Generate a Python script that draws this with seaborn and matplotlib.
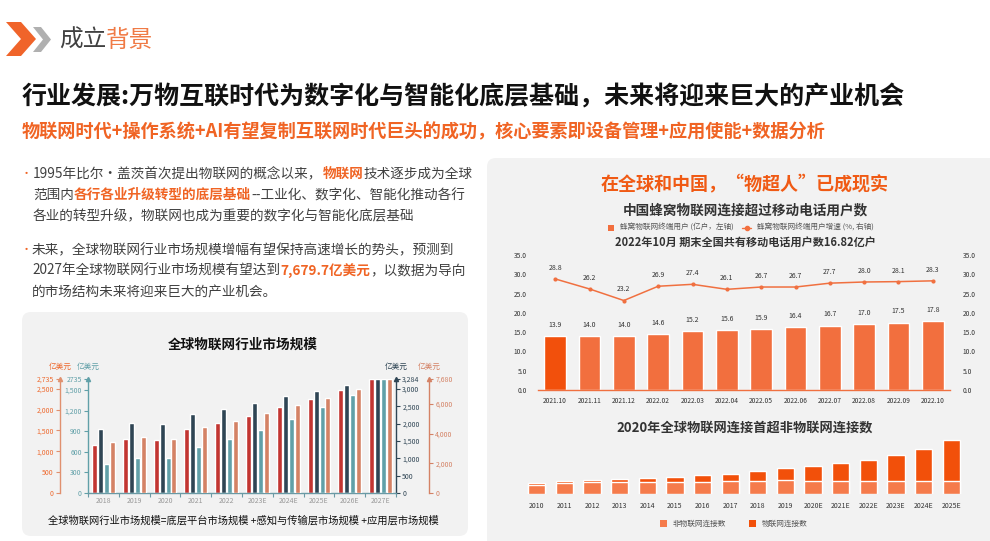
import matplotlib
matplotlib.use('Agg')
import matplotlib.pyplot as plt
import seaborn as sns
import numpy as np
import pandas as pd
from matplotlib.patches import FancyBboxPatch, Polygon, Rectangle
from matplotlib.lines import Line2D

# ---------------- data ----------------
years_l = ['2018', '2019', '2020', '2021', '2022', '2023E', '2024E', '2025E', '2026E', '2027E']
platform = [1155, 1307, 1275, 1540, 1684, 1853, 2069, 2262, 2478, 2735]
sensing = [1849, 2022, 1993, 2282, 2427, 2600, 2802, 2947, 3120, 3284]
application = [424, 516, 516, 672, 789, 920, 1081, 1256, 1431, 1661]
market_total = [3446, 3784, 3649, 4459, 4865, 5405, 5946, 6419, 7027, 7680]

months = ['2021.10', '2021.11', '2021.12', '2022.02', '2022.03', '2022.04',
          '2022.05', '2022.06', '2022.07', '2022.08', '2022.09', '2022.10']
cellular_users = [13.9, 14.0, 14.0, 14.6, 15.2, 15.6, 15.9, 16.4, 16.7, 17.0, 17.5, 17.8]
cellular_growth = [28.8, 26.2, 23.2, 26.9, 27.4, 26.1, 26.7, 26.7, 27.7, 28.0, 28.1, 28.3]

years_b = ['2010', '2011', '2012', '2013', '2014', '2015', '2016', '2017', '2018', '2019',
           '2020E', '2021E', '2022E', '2023E', '2024E', '2025E']
non_iot = [7.0, 8.5, 9.2, 9.2, 9.2, 9.2, 9.2, 10.0, 10.0, 10.8, 10.0, 10.0, 10.0, 10.0, 10.0, 10.0]
iot = [1.5, 1.5, 1.5, 2.3, 3.1, 3.8, 5.4, 5.4, 7.7, 9.2, 11.5, 13.8, 16.2, 20.0, 24.6, 31.5]

# ---------------- style ----------------
sns.set_theme(style='white')
plt.rcParams['font.family'] = ['Noto Sans CJK SC', 'DejaVu Sans']
plt.rcParams['axes.unicode_minus'] = False

W, H = 990, 541
fig = plt.figure(figsize=(W / 100, H / 100), dpi=100)
fig.patch.set_facecolor('white')

bg = fig.add_axes([0, 0, 1, 1], zorder=-10)
bg.set_xlim(0, W)
bg.set_ylim(H, 0)
bg.axis('off')

def R(x0, y0, x1, y1):
    return [x0 / W, 1 - y1 / H, (x1 - x0) / W, (y1 - y0) / H]

ORANGE = '#f06424'
DARK = '#333333'
BODY = '#404040'

# panels
bg.add_patch(FancyBboxPatch((22, 312), 446, 224, boxstyle='round,pad=0,rounding_size=9',
                            fc='#f2f2f2', ec='none'))
bg.add_patch(FancyBboxPatch((487, 158), 520, 400, boxstyle='round,pad=0,rounding_size=9',
                            fc='#f2f2f2', ec='none'))

# chevrons
bg.add_patch(Polygon([(33, 27), (41, 27), (51, 39.5), (41, 52), (33, 52), (43, 39.5)],
                     closed=True, fc='#b0b0b0', ec='none'))
bg.add_patch(Polygon([(6, 22), (21, 22), (36, 39), (21, 56), (6, 56), (21, 39)],
                     closed=True, fc='#f0642a', ec='none'))

renderer = fig.canvas.get_renderer()

def rich(x, y, segs, size, va='center'):
    for txt, color, weight in segs:
        t = bg.text(x, y, txt, color=color, fontsize=size, fontweight=weight,
                    ha='left', va=va)
        bb = t.get_window_extent(renderer)
        x = bg.transData.inverted().transform((bb.x1, bb.y0))[0]

# header
rich(59, 40, [('成立', '#404040', 'normal'), ('背景', '#f07a45', 'normal')], 17)
bg.text(22, 97, '行业发展:万物互联时代为数字化与智能化底层基础，未来将迎来巨大的产业机会',
        fontsize=18.0, fontweight='bold', color='#111111', ha='left', va='center')
bg.text(22, 132, '物联网时代+操作系统+AI有望复制互联网时代巨头的成功，核心要素即设备管理+应用使能+数据分析',
        fontsize=13.1, fontweight='bold', color=ORANGE, ha='left', va='center')

# bullets
FS = 9.8
bg.text(21, 174, '•', color=ORANGE, fontsize=8, ha='left', va='center')
rich(33, 174, [('1995年比尔·盖茨首次提出物联网的概念以来，', BODY, 'normal'),
               ('物联网', ORANGE, 'bold'), ('技术逐步成为全球', BODY, 'normal')], FS)
rich(33, 195, [('范围内', BODY, 'normal'), ('各行各业升级转型的底层基础', ORANGE, 'bold'),
               ('--工业化、数字化、智能化推动各行', BODY, 'normal')], FS)
rich(33, 216, [('各业的转型升级，物联网也成为重要的数字化与智能化底层基础', BODY, 'normal')], FS)
bg.text(21, 250, '•', color=ORANGE, fontsize=8, ha='left', va='center')
rich(32, 250, [('未来，全球物联网行业市场规模增幅有望保持高速增长的势头，预测到', BODY, 'normal')], FS)
rich(32, 271, [('2027年全球物联网行业市场规模有望达到', BODY, 'normal'),
               ('7,679.7亿美元', ORANGE, 'bold'), ('，以数据为导向', BODY, 'normal')], FS)
rich(32, 292, [('的市场结构未来将迎来巨大的产业机会。', BODY, 'normal')], FS)

# ---------------- left chart ----------------
bg.text(243, 345, '全球物联网行业市场规模', fontsize=9.8, fontweight='bold', color='#111111',
        ha='center', va='center')
bg.text(243, 521, '全球物联网行业市场规模=底层平台市场规模 +感知与传输层市场规模 +应用层市场规模',
        fontsize=7.4, color='#111111', ha='center', va='center')

rect_l = R(88, 379, 396, 493)
axw = 396 - 88
series = [
    (platform, '#c23531', 2735, [0, 500, 1000, 1500, 2000, 2500, 2735],
     ['0', '500', '1,000', '1,500', '2,000', '2,500', '2,735'], 'left', -28 / axw, '#e0906e', '#ee6a2f'),
    (sensing, '#2f4554', 3284, [0, 500, 1000, 1500, 2000, 2500, 3000, 3284],
     ['0', '500', '1,000', '1,500', '2,000', '2,500', '3,000', '3,284'], 'right', 1.0, '#2f4554', '#2f4554'),
    (application, '#61a0a8', 1661, [0, 300, 600, 900, 1200, 1500, 1661],
     ['0', '300', '600', '900', '1,200', '1,500', '2735'], 'left', 0.0, '#61a0a8', '#61a0a8'),
    (market_total, '#d48265', 7680, [0, 2000, 4000, 6000, 7680],
     ['0', '2,000', '4,000', '6,000', '7,680'], 'right', 1 + 33 / axw, '#d48265', '#d48265'),
]
offsets = [-0.29, -0.095, 0.10, 0.29]
xs = np.arange(len(years_l))
axes_l = []
for i, (vals, col, top, ticks, labels, side, pos, lc, tc) in enumerate(series):
    ax = fig.add_axes(rect_l, label=f'l{i}')
    ax.set_facecolor('none')
    ax.bar(xs + offsets[i], vals, width=0.16, color=col)
    ax.set_xlim(-0.5, len(years_l) - 0.5)
    ax.set_ylim(0, top)
    for s in ax.spines.values():
        s.set_visible(False)
    sp = ax.spines[side]
    sp.set_visible(True)
    sp.set_position(('axes', pos))
    sp.set_color(lc)
    sp.set_linewidth(1.0)
    if side == 'left':
        ax.yaxis.tick_left()
    else:
        ax.yaxis.tick_right()
    ax.set_yticks(ticks)
    ax.set_yticklabels(labels)
    ax.tick_params(axis='y', colors=lc, labelcolor=tc, labelsize=5, length=3, width=0.8, pad=1.5,
                   direction='out')
    ax.plot([pos], [1.0], marker='^', ms=3, color=lc, transform=ax.transAxes, clip_on=False)
    ax.text(pos, 1.11, '亿美元', transform=ax.transAxes, fontsize=5.5, color=tc,
            ha='center', va='center')
    ax.set_xticks([])
    axes_l.append(ax)

axx = axes_l[2]
axx.spines['bottom'].set_visible(True)
axx.spines['bottom'].set_color('#6a9aa5')
axx.spines['bottom'].set_linewidth(1.0)
axx.set_xticks(xs)
axx.set_xticklabels(years_l)
axx.set_xticks(np.arange(-0.5, len(years_l) + 0.5, 1), minor=True)
axx.tick_params(axis='x', which='major', length=0, labelsize=5, labelcolor='#999999', pad=3)
axx.tick_params(axis='x', which='minor', length=3, color='#6a9aa5', width=0.8, bottom=True)

# ---------------- right top chart ----------------
bg.text(745, 185, '在全球和中国，“物超人”已成现实', fontsize=13, fontweight='bold',
        color='#f05a14', ha='center', va='center')
bg.text(745, 210, '中国蜂窝物联网连接超过移动电话用户数', fontsize=9.8, fontweight='bold',
        color='#333333', ha='center', va='center')
bg.add_patch(Rectangle((608, 224.5), 6, 6, fc='#f26f3e', ec='none'))
bg.text(620, 227.5, '蜂窝物联网终端用户 (亿户，左轴)', fontsize=5.5, color='#555555',
        ha='left', va='center')
bg.add_line(Line2D([742, 751], [227.5, 227.5], color='#f26f3e', lw=1))
bg.plot([746.5], [227.5], marker='o', ms=3, color='#f26f3e')
bg.text(757, 227.5, '蜂窝物联网终端用户增速 (%, 右轴)', fontsize=5.5, color='#555555',
        ha='left', va='center')
bg.text(745, 242, '2022年10月 期末全国共有移动电话用户数16.82亿户', fontsize=8, fontweight='bold',
        color='#333333', ha='center', va='center')

ax_b = fig.add_axes(R(538, 255, 950, 390))
ax_b.set_facecolor('none')
df_c = pd.DataFrame({'month': months, 'users': cellular_users})
bar_colors = ['#f2500c'] + ['#f26f3e'] * (len(months) - 1)
sns.barplot(data=df_c, x='month', y='users', hue='month', palette=bar_colors, legend=False,
            width=0.63, ax=ax_b, saturation=1)
ax_b.set_ylim(0, 35)
ax_b.set_xlim(-0.5, len(months) - 0.5)
ax_b.set_yticks(np.arange(0, 36, 5))
ax_b.set_yticklabels([f'{v:.1f}' for v in np.arange(0, 36, 5)])
ax_b.set_xlabel('')
ax_b.set_ylabel('')
for s in ax_b.spines.values():
    s.set_visible(False)
ax_b.spines['bottom'].set_visible(True)
ax_b.spines['bottom'].set_color('#f07040')
ax_b.spines['bottom'].set_linewidth(1.0)
ax_b.tick_params(axis='both', length=0, labelsize=4.8, labelcolor='#333333')
ax_b.tick_params(axis='y', pad=8)
ax_b.tick_params(axis='x', pad=5)
for i, v in enumerate(cellular_users):
    ax_b.annotate(f'{v:.1f}', (i, v), xytext=(0, 8), textcoords='offset points',
                  ha='center', va='center', fontsize=5, color='#333333')

ax_g = ax_b.twinx()
ax_g.set_facecolor('none')
sns.lineplot(x=np.arange(len(months)), y=cellular_growth, ax=ax_g, color='#f07040', lw=1.1,
             marker='o', markersize=3, markeredgewidth=0)
ax_g.set_ylim(0, 35)
ax_g.set_yticks(np.arange(0, 36, 5))
ax_g.set_yticklabels([f'{v:.1f}' for v in np.arange(0, 36, 5)])
for s in ax_g.spines.values():
    s.set_visible(False)
ax_g.tick_params(axis='y', length=0, labelsize=4.8, labelcolor='#333333', pad=9)
for i, v in enumerate(cellular_growth):
    ax_g.annotate(f'{v:.1f}', (i, v), xytext=(0, 8), textcoords='offset points',
                  ha='center', va='center', fontsize=5, color='#333333')

# ---------------- right bottom chart ----------------
bg.text(745, 428, '2020年全球物联网连接首超非物联网连接数', fontsize=9.5, fontweight='bold',
        color='#333333', ha='center', va='center')
ax_c = fig.add_axes(R(523, 435, 965, 494))
ax_c.set_facecolor('none')
conn_total = [a + b for a, b in zip(non_iot, iot)]
df_b = pd.DataFrame({'year': years_b, 'total': conn_total, 'non': non_iot})
sns.barplot(data=df_b, x='year', y='total', color='#f2500a', saturation=1, width=0.62, ax=ax_c)
sns.barplot(data=df_b, x='year', y='non', color='#f57b4b', saturation=1, width=0.62, ax=ax_c)
ax_c.set_ylim(0, 59 / 1.3)
ax_c.set_xlim(-0.5, len(years_b) - 0.5)
ax_c.set_xlabel('')
ax_c.set_ylabel('')
ax_c.set_yticks([])
for s in ax_c.spines.values():
    s.set_visible(False)
ax_c.tick_params(axis='x', length=0, labelsize=5, labelcolor='#333333', pad=6)

bg.add_patch(Rectangle((660, 520), 6.5, 6.5, fc='#f57b4b', ec='none'))
bg.text(673, 523.5, '非物联网连接数', fontsize=5.5, color='#555555', ha='left', va='center')
bg.add_patch(Rectangle((749, 520), 6.5, 6.5, fc='#f2500a', ec='none'))
bg.text(762, 523.5, '物联网连接数', fontsize=5.5, color='#555555', ha='left', va='center')

fig.savefig('out.png', dpi=100)
